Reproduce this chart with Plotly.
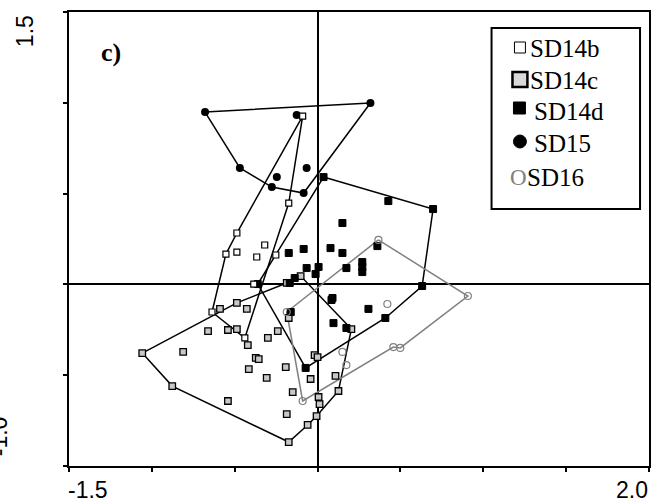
import plotly.graph_objects as go

# ---------------- data (first n points of each group = hull vertices, in order) ----
sd15_x = [-0.679, 0.319, -0.084, -0.276, -0.469, -0.126, -0.246, -0.066]
sd15_y = [0.949, 0.999, 0.503, 0.536, 0.641, 0.933, 0.591, 0.641]
sd15_hull_n = 5

sd14b_x = [-0.090, -0.487, -0.553, -0.637, -0.439, -0.174, -0.487, -0.367, -0.319, -0.252, -0.385]
sd14b_y = [0.927, 0.283, 0.167, -0.152, -0.295, 0.448, 0.178, 0.151, 0.217, 0.162, 0.002]
sd14b_hull_n = 6

sd14c_x = [-1.058, -0.487, -0.186, -0.102, 0.204, 0.126, -0.006, -0.060, -0.174, -0.877,
           -0.589, -0.427, -0.661, -0.541, -0.487, -0.421, -0.811, -0.300, -0.240, -0.373,
           -0.355, -0.415, -0.307, -0.192, -0.150, -0.541, -0.186, -0.174, 0.012, 0.006,
           -0.042, -0.018, 0.000, 0.108]
sd14c_y = [-0.378, -0.102, 0.008, 0.046, -0.246, -0.587, -0.725, -0.774, -0.868, -0.560,
           -0.135, -0.135, -0.257, -0.251, -0.246, -0.334, -0.372, -0.295, -0.257, -0.405,
           -0.411, -0.466, -0.515, -0.455, -0.593, -0.642, -0.714, -0.185, -0.659, -0.620,
           -0.521, -0.389, -0.400, -0.504]
sd14c_hull_n = 10

sd14d_x = [0.036, 0.697, 0.631, 0.409, -0.072, -0.361,
           0.427, 0.150, -0.174, -0.084, 0.078, 0.150, 0.361, 0.270, 0.270, 0.270, 0.174,
           -0.066, 0.006, -0.012, -0.138, -0.168, 0.090, 0.084, 0.307, 0.096, 0.174, -0.162]
sd14d_y = [0.591, 0.415, -0.009, -0.185, -0.460, 0.002,
           0.459, 0.338, 0.173, 0.195, 0.200, 0.173, 0.211, 0.123, 0.096, 0.068, 0.090,
           0.090, 0.096, 0.057, 0.035, 0.008, -0.075, -0.086, -0.135, -0.213, -0.240, -0.152]
sd14d_hull_n = 6

sd16_x = [0.367, 0.907, 0.499, 0.457, -0.090, -0.186, 0.421, 0.150, 0.174]
sd16_y = [0.245, -0.064, -0.350, -0.345, -0.642, -0.152, -0.108, -0.372, -0.444]
sd16_hull_n = 6

series_names = ["SD14b", "SD14c", "SD14d", "SD15", "SD16"]
x_range = [-1.5, 2.0]
y_range = [-1.0, 1.5]
x_tick_labels = ["-1.5", "2.0"]
y_tick_labels = ["-1.0", "1.5"]
panel_label = "c)"

# ---------------- figure ----------------
W, H = 654, 504
ML, MR, MT, MB = 69, 3, 12, 38
PW, PH = W - ML - MR, H - MT - MB


def px(xp):
    return (xp - ML) / PW


def py(yp):
    return (H - MB - yp) / PH


fig = go.Figure()


def hull(xs, ys, n, color):
    hx = xs[:n] + [xs[0]]
    hy = ys[:n] + [ys[0]]
    fig.add_trace(go.Scatter(x=hx, y=hy, mode="lines",
                             line=dict(color=color, width=1.5),
                             hoverinfo="skip", showlegend=False))


hull(sd15_x, sd15_y, sd15_hull_n, "black")
hull(sd14b_x, sd14b_y, sd14b_hull_n, "black")
hull(sd14c_x, sd14c_y, sd14c_hull_n, "black")
hull(sd14d_x, sd14d_y, sd14d_hull_n, "black")
hull(sd16_x, sd16_y, sd16_hull_n, "#808080")

fig.add_trace(go.Scatter(x=sd15_x, y=sd15_y, mode="markers", name="SD15",
                         marker=dict(symbol="circle", size=8, color="black"),
                         showlegend=False))
fig.add_trace(go.Scatter(x=sd14c_x, y=sd14c_y, mode="markers", name="SD14c",
                         marker=dict(symbol="square", size=6.5, color="#c8c8c8",
                                     line=dict(color="black", width=1.3)),
                         showlegend=False))
fig.add_trace(go.Scatter(x=sd14d_x, y=sd14d_y, mode="markers", name="SD14d",
                         marker=dict(symbol="square", size=7, color="black",
                                     line=dict(color="black", width=1)),
                         showlegend=False))
fig.add_trace(go.Scatter(x=sd16_x, y=sd16_y, mode="markers", name="SD16",
                         marker=dict(symbol="circle-open", size=7, color="#808080",
                                     line=dict(color="#808080", width=1.2)),
                         showlegend=False))
fig.add_trace(go.Scatter(x=sd14b_x, y=sd14b_y, mode="markers", name="SD14b",
                         marker=dict(symbol="square", size=6, color="white",
                                     line=dict(color="black", width=1.2)),
                         showlegend=False))

axis_common = dict(showgrid=False, zeroline=True, zerolinecolor="black", zerolinewidth=2,
                   showline=True, linecolor="black", linewidth=2, mirror=True,
                   ticks="outside", ticklen=4, tickcolor="black", tickwidth=1.5,
                   showticklabels=False)
fig.update_xaxes(range=x_range, dtick=0.5, tick0=-1.5, **axis_common)
fig.update_yaxes(range=y_range, dtick=0.5, tick0=-1.0, **axis_common)

shapes = []
annotations = []

# tick labels
tick_font = dict(family="Liberation Sans, Arial", size=23, color="black")
annotations.append(dict(xref="paper", yref="paper", x=px(66), y=py(490), text=x_tick_labels[0],
                        xanchor="left", yanchor="middle", showarrow=False, font=tick_font))
annotations.append(dict(xref="paper", yref="paper", x=px(652), y=py(490), text=x_tick_labels[1],
                        xanchor="right", yanchor="middle", showarrow=False, font=tick_font))
annotations.append(dict(xref="paper", yref="paper", x=px(25), y=py(31), text=y_tick_labels[1],
                        textangle=-90, xanchor="center", yanchor="middle", showarrow=False,
                        font=tick_font))
annotations.append(dict(xref="paper", yref="paper", x=px(-1), y=py(436), text=y_tick_labels[0],
                        textangle=-90, xanchor="center", yanchor="middle", showarrow=False,
                        font=tick_font))

serif = "Times New Roman, Liberation Serif, serif"
# panel label
annotations.append(dict(xref="paper", yref="paper", x=px(99), y=py(52), text="<b>" + panel_label + "</b>",
                        xanchor="left", yanchor="middle", showarrow=False,
                        font=dict(family=serif, size=26, color="black")))

# legend box
shapes.append(dict(type="rect", xref="paper", yref="paper", x0=px(493), x1=px(642),
                   y0=py(209), y1=py(28), line=dict(color="black", width=2),
                   fillcolor="white", layer="above"))
leg_font = dict(family=serif, size=25, color="black")
# symbols
shapes.append(dict(type="rect", xref="paper", yref="paper", x0=px(516), x1=px(527),
                   y0=py(53), y1=py(42), line=dict(color="black", width=1), fillcolor="white",
                   layer="above"))
shapes.append(dict(type="rect", xref="paper", yref="paper", x0=px(514), x1=px(529),
                   y0=py(87), y1=py(72), line=dict(color="black", width=2.5), fillcolor="#d9d9d9",
                   layer="above"))
shapes.append(dict(type="rect", xref="paper", yref="paper", x0=px(515), x1=px(527),
                   y0=py(114), y1=py(102), line=dict(color="black", width=1), fillcolor="black",
                   layer="above"))
shapes.append(dict(type="circle", xref="paper", yref="paper", x0=px(515), x1=px(528),
                   y0=py(148), y1=py(135), line=dict(color="black", width=1), fillcolor="black",
                   layer="above"))
leg_rows = [(530, 47), (530, 79), (534, 109), (534, 141), (527, 175)]
for name, (lx, ly) in zip(series_names, leg_rows):
    annotations.append(dict(xref="paper", yref="paper", x=px(lx), y=py(ly + 2), text=name,
                            xanchor="left", yanchor="middle", showarrow=False, font=leg_font))
annotations.append(dict(xref="paper", yref="paper", x=px(510), y=py(177), text="O",
                        xanchor="left", yanchor="middle", showarrow=False,
                        font=dict(family=serif, size=23, color="#808080")))

fig.update_layout(width=W, height=H, margin=dict(l=ML, r=MR, t=MT, b=MB),
                  plot_bgcolor="white", paper_bgcolor="white",
                  shapes=shapes, annotations=annotations, showlegend=False)

fig.write_html("out.html", config={"displayModeBar": False},
               post_script="document.body.style.margin='0';document.body.style.padding='0';")
